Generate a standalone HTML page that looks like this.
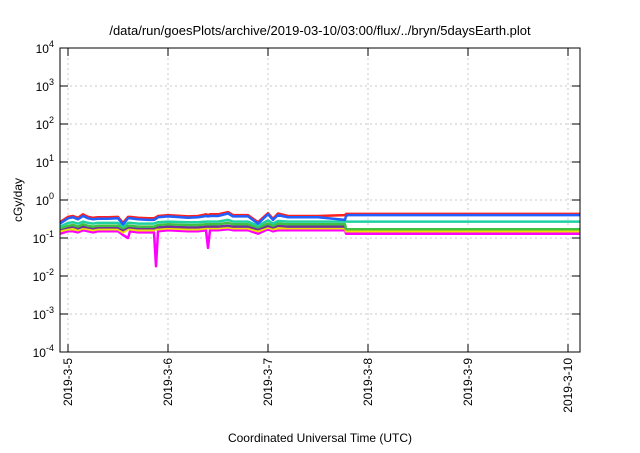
<!DOCTYPE html>
<html><head><meta charset="utf-8"><style>
body{margin:0;background:#fff;width:640px;height:448px;overflow:hidden;font-family:"Liberation Sans",sans-serif}
</style></head><body>
<svg id="chart" width="640" height="448" xmlns="http://www.w3.org/2000/svg" font-family="Liberation Sans, sans-serif">
<text x="320" y="35" text-anchor="middle" font-size="13">/data/run/goesPlots/archive/2019-03-10/03:00/flux/../bryn/5daysEarth.plot</text>
<g id="grid"></g><g id="series"></g><g id="axes"></g>
<text transform="translate(22,200) rotate(-90)" text-anchor="middle" font-size="12">cGy/day</text>
<text x="320" y="442" text-anchor="middle" font-size="12">Coordinated Universal Time (UTC)</text>
</svg>
<script>
const xTickLabels=["2019-3-5","2019-3-6","2019-3-7","2019-3-8","2019-3-9","2019-3-10"];
const yTickExps=[4,3,2,1,0,-1,-2,-3,-4];
const times=[-0.08,0.0,0.05,0.1,0.15,0.2,0.25,0.3,0.4,0.5,0.55,0.6,0.62,0.7,0.8,0.86,0.88,0.9,1.0,1.2,1.3,1.38,1.4,1.42,1.5,1.6,1.65,1.8,1.9,2.0,2.05,2.1,2.2,2.5,2.77,2.78,2.8,5.12];
const red    =[0.26,0.36,0.38,0.34,0.42,0.36,0.34,0.35,0.35,0.36,0.25,0.36,0.36,0.34,0.33,0.33,0.35,0.38,0.40,0.37,0.38,0.42,0.40,0.42,0.42,0.48,0.40,0.40,0.26,0.45,0.32,0.44,0.38,0.38,0.40,0.43,0.43,0.43];
const blue   =[0.24,0.33,0.35,0.31,0.38,0.33,0.31,0.32,0.32,0.33,0.23,0.33,0.33,0.31,0.30,0.30,0.32,0.35,0.37,0.34,0.35,0.38,0.37,0.38,0.38,0.44,0.37,0.37,0.24,0.42,0.30,0.40,0.35,0.35,0.30,0.38,0.40,0.40];
const teal   =[0.20,0.25,0.26,0.24,0.27,0.25,0.24,0.25,0.25,0.25,0.20,0.25,0.25,0.24,0.24,0.24,0.25,0.26,0.27,0.26,0.26,0.27,0.27,0.27,0.27,0.30,0.27,0.27,0.21,0.29,0.24,0.28,0.27,0.27,0.27,0.27,0.27,0.27];
const green  =[0.18,0.21,0.22,0.20,0.23,0.21,0.20,0.21,0.21,0.21,0.18,0.21,0.21,0.20,0.20,0.20,0.21,0.22,0.23,0.22,0.22,0.23,0.23,0.23,0.23,0.25,0.23,0.23,0.19,0.24,0.21,0.24,0.23,0.23,0.23,0.17,0.17,0.17];
const purple =[0.17,0.19,0.20,0.18,0.20,0.19,0.18,0.19,0.19,0.19,0.16,0.19,0.19,0.18,0.18,0.18,0.19,0.19,0.20,0.19,0.19,0.20,0.20,0.20,0.20,0.21,0.20,0.20,0.17,0.21,0.19,0.21,0.20,0.20,0.20,0.17,0.17,0.17];
const yellow =[0.15,0.17,0.17,0.16,0.18,0.17,0.16,0.17,0.17,0.17,0.14,0.17,0.17,0.16,0.16,0.16,0.17,0.17,0.18,0.17,0.17,0.18,0.18,0.18,0.18,0.19,0.18,0.18,0.15,0.19,0.17,0.18,0.18,0.18,0.18,0.15,0.15,0.15];
const magenta=[0.13,0.15,0.15,0.14,0.16,0.15,0.14,0.15,0.15,0.15,0.12,0.10,0.15,0.14,0.14,0.14,0.018,0.15,0.16,0.15,0.15,0.16,0.055,0.16,0.16,0.17,0.16,0.16,0.13,0.17,0.15,0.16,0.16,0.16,0.16,0.13,0.13,0.13];
const seriesList=[["magenta",magenta,"#ff00ff"],["yellow",yellow,"#f0e000"],["purple",purple,"#7030a0"],["green",green,"#40c040"],["teal",teal,"#20d0a0"],["red",red,"#ff2020"],["blue",blue,"#2060ff"]];
const L=60,R=580,T=48,B=352,x0=-0.08,x1=5.12;
const xs=d=>L+(d-x0)/(x1-x0)*(R-L);
const ys=v=>T+(4-Math.log10(v))/8*(B-T);
const NS="http://www.w3.org/2000/svg";
function mk(tag,attrs,parent){const e=document.createElementNS(NS,tag);for(const k in attrs)e.setAttribute(k,attrs[k]);parent.appendChild(e);return e;}
const grid=document.getElementById('grid'),axes=document.getElementById('axes'),sg=document.getElementById('series');
yTickExps.forEach(e=>{const y=ys(Math.pow(10,e));
 if(e<4&&e>-4){const g=mk('line',{x1:L,x2:R,y1:y,y2:y,stroke:'#c8c8c8','stroke-dasharray':'2,3'},grid);
 
 }
 const t1=mk('line',{x1:L,x2:L+8,y1:y,y2:y,stroke:'#000'},axes);
 
 
 const t2=mk('line',{x1:R-8,x2:R,y1:y,y2:y,stroke:'#000'},axes);
 
 
 const tx=mk('text',{x:L-6,y:y+5,'text-anchor':'end','font-size':'12'},axes);
 
 
 tx.innerHTML='10<tspan dy="-6" font-size="9">'+e+'</tspan>';});
xTickLabels.forEach((lab,i)=>{const x=xs(i);
 const g=mk('line',{x1:x,x2:x,y1:T,y2:B,stroke:'#c8c8c8','stroke-dasharray':'2,3'},grid);
 
 
 const t1=mk('line',{x1:x,x2:x,y1:B-8,y2:B,stroke:'#000'},axes);
 
 
 const t2=mk('line',{x1:x,x2:x,y1:T,y2:T+8,stroke:'#000'},axes);
 
 
 const tx=mk('text',{x:x+4,y:B+6,'text-anchor':'end','font-size':'12',transform:`rotate(-90 ${x+4} ${B+6})`},axes);
 
 
 tx.textContent=lab;});
const frame=mk('rect',{x:L,y:T,width:R-L,height:B-T,fill:'none',stroke:'#000'},axes);


seriesList.forEach(([name,vals,col])=>{let d='';
 vals.forEach((v,i)=>{const x=xs(times[i]),y=ys(v);d+=(i?'L':'M')+x.toFixed(1)+','+y.toFixed(1);});
 const p=mk('path',{d:d,fill:'none',stroke:col,'stroke-width':'2.5','stroke-linejoin':'round'},sg);
 
 });
</script>
</body></html>
